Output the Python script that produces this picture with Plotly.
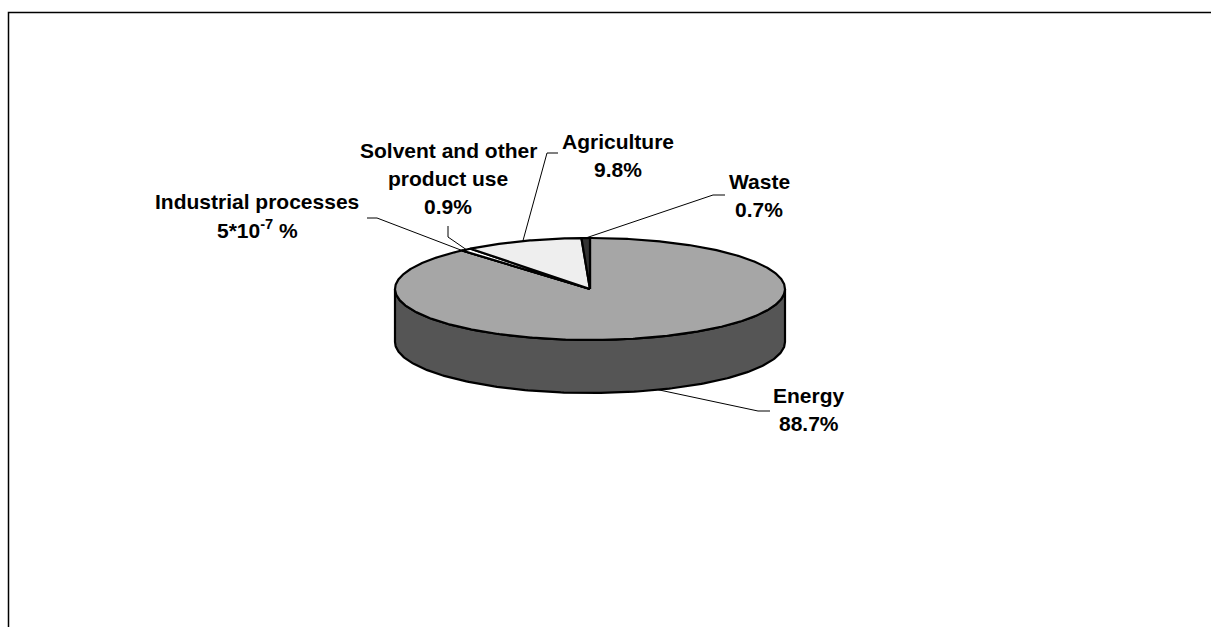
import numpy as np
import plotly.graph_objects as go

# ---------------- data ----------------
categories = ["Energy", "Industrial processes", "Solvent and other product use", "Agriculture", "Waste"]
values = [88.7, 5e-7, 0.9, 9.8, 0.7]
value_labels = ["88.7%", "5*10<sup>-7</sup> %", "0.9%", "9.8%", "0.7%"]
label_names = [["Energy"], ["Industrial processes"], ["Solvent and other", "product use"], ["Agriculture"], ["Waste"]]

# ---------------- styles / layout ----------------
W, H = 1211, 627
CX, CY, RX, RY, DEPTH = 590, 289, 195, 51, 53
top_colors = ["#a6a6a6", "#808080", "#ffffff", "#eeeeee", "#333333"]
side_colors = ["#555555", "#404040", "#bfbfbf", "#b0b0b0", "#1a1a1a"]
LINE_GAP = 28
# first text line centre, leader start, leader elbow (pixel positions)
label_pos = [
    dict(tx=809, ty=395, sx=770, sy=411, ex=758, ey=411),
    dict(tx=257, ty=201, sx=367, sy=218, ex=377, ey=218),
    dict(tx=448, ty=150, sx=448, sy=226, ex=448, ey=237),
    dict(tx=618, ty=141, sx=558, sy=153, ex=547, ey=153),
    dict(tx=759, ty=181, sx=725, sy=195, ex=713, ey=195),
]
FONT = "Liberation Sans, Arial, sans-serif"
FSIZE = 21


def pt(theta_deg, drop=0.0):
    t = np.radians(theta_deg)
    return CX + RX * np.sin(t), CY - RY * np.cos(t) + drop


total = sum(values)
bounds = np.concatenate([[0], np.cumsum(values) / total * 360.0])

fig = go.Figure()

# side walls (front half only: 90..270 deg clockwise from top)
for i in range(len(values)):
    a0, a1 = bounds[i], bounds[i + 1]
    s, e = max(a0, 90.0), min(a1, 270.0)
    if e <= s:
        continue
    th = np.linspace(s, e, 200)
    xt, yt = pt(th)
    xb, yb = pt(th[::-1], DEPTH)
    xs = np.concatenate([xt, xb, xt[:1]])
    ys = np.concatenate([yt, yb, yt[:1]])
    fig.add_trace(go.Scatter(x=xs, y=ys, mode="lines", fill="toself",
                             fillcolor=side_colors[i],
                             line=dict(color="black", width=2.2),
                             hoverinfo="skip", showlegend=False))

# top faces
for i in range(len(values)):
    a0, a1 = bounds[i], bounds[i + 1]
    n = max(2, int((a1 - a0) * 2) + 2)
    th = np.linspace(a0, a1, n)
    xa, ya = pt(th)
    xs = np.concatenate([[CX], xa, [CX]])
    ys = np.concatenate([[CY], ya, [CY]])
    fig.add_trace(go.Scatter(x=xs, y=ys, mode="lines", fill="toself",
                             fillcolor=top_colors[i],
                             line=dict(color="black", width=2.2),
                             hoverinfo="skip", showlegend=False))

# leader lines + labels
for i in range(len(values)):
    mid = (bounds[i] + bounds[i + 1]) / 2.0
    drop = DEPTH if 90 < mid < 270 else 0.0
    axp, ayp = pt(mid, drop)
    p = label_pos[i]
    fig.add_trace(go.Scatter(x=[p["sx"], p["ex"], axp], y=[p["sy"], p["ey"], ayp],
                             mode="lines", line=dict(color="black", width=1),
                             hoverinfo="skip", showlegend=False))
    lines = label_names[i] + [value_labels[i]]
    for k, txt in enumerate(lines):
        fig.add_annotation(x=p["tx"], y=p["ty"] + k * LINE_GAP, xref="x", yref="y",
                           text="<b>" + txt + "</b>",
                           showarrow=False, xanchor="center", yanchor="middle",
                           align="center",
                           font=dict(family=FONT, size=FSIZE, color="black"))

# chart frame (cropped at right / bottom)
fig.add_shape(type="rect", xref="x", yref="y", x0=8.5, y0=12.5, x1=W + 20, y1=H + 20,
              line=dict(color="black", width=1.5), fillcolor="rgba(0,0,0,0)", layer="below")

fig.update_layout(
    width=W, height=H,
    margin=dict(l=0, r=0, t=0, b=0),
    paper_bgcolor="white", plot_bgcolor="white",
    xaxis=dict(range=[0, W], visible=False, fixedrange=True),
    yaxis=dict(range=[H, 0], visible=False, fixedrange=True),
    showlegend=False,
)

fig.write_html("out.html")
